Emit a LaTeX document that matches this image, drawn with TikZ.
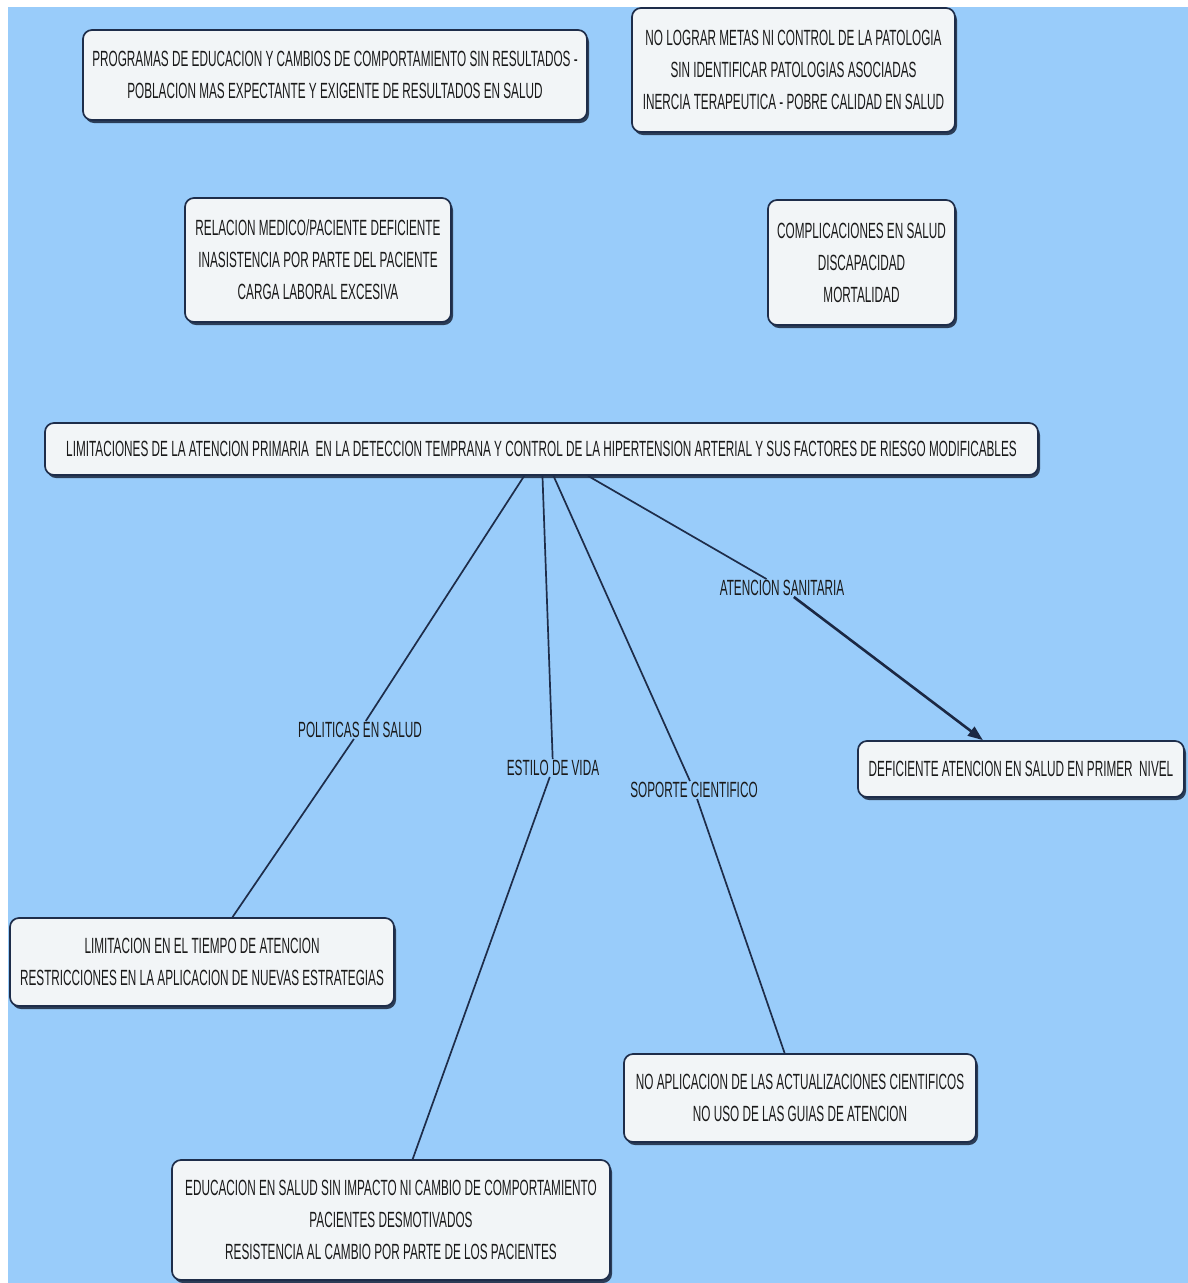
\documentclass[tikz,border=0pt]{standalone}
\usepackage{fontspec}
\setmainfont{Liberation Sans}[FakeStretch=0.535]
\usetikzlibrary{arrows.meta,shadows}
\definecolor{bgblue}{HTML}{99CCFA}
\definecolor{boxfill}{HTML}{F2F5F7}
\definecolor{navy}{HTML}{1E2D4A}
\definecolor{txt}{HTML}{1A1A1A}
\tikzset{
  cbox/.style={draw=navy, line width=1.7pt, fill=boxfill, rounded corners=9pt,
    align=center, text=txt, inner sep=0pt,
    font=\fontsize{22}{32}\selectfont,
    drop shadow={shadow xshift=2pt, shadow yshift=-3pt, fill=navy!80!black, opacity=0.85}},
  elabel/.style={text=txt, inner sep=1pt, font=\fontsize{22}{24}\selectfont},
  conn/.style={draw=navy, line width=1.7pt},
  arrconn/.style={draw=navy!90!black, line width=2.6pt, -{Triangle[length=15pt,width=11pt]}}
}
\begin{document}
\begin{tikzpicture}[x=1pt,y=-1pt]
\useasboundingbox (0,0) rectangle (1188,1283);
\fill[white] (0,0) rectangle (1188,1283);
\fill[bgblue] (8,7) rectangle (1188,1283);

\node[cbox, minimum width=504pt, minimum height=90pt] (prog) at (335,75)
  {PROGRAMAS DE EDUCACION Y CAMBIOS DE COMPORTAMIENTO SIN RESULTADOS -\\
   POBLACION MAS EXPECTANTE Y EXIGENTE DE RESULTADOS EN SALUD};
\node[cbox, minimum width=323pt, minimum height=124pt] (metas) at (793.5,70)
  {NO LOGRAR METAS NI CONTROL DE LA PATOLOGIA\\
   SIN IDENTIFICAR PATOLOGIAS ASOCIADAS\\
   INERCIA TERAPEUTICA - POBRE CALIDAD EN SALUD};
\node[cbox, minimum width=266pt, minimum height=124pt] (rel) at (318,260)
  {RELACION MEDICO/PACIENTE DEFICIENTE\\
   INASISTENCIA POR PARTE DEL PACIENTE\\
   CARGA LABORAL EXCESIVA};
\node[cbox, minimum width=187pt, minimum height=125pt] (compl) at (861.5,262.5)
  {COMPLICACIONES EN SALUD\\
   DISCAPACIDAD\\
   MORTALIDAD};
\node[cbox, minimum width=993pt, minimum height=52pt] (main) at (541.5,449)
  {LIMITACIONES DE LA ATENCION PRIMARIA\ \ EN LA DETECCION TEMPRANA Y CONTROL DE LA HIPERTENSION ARTERIAL Y SUS FACTORES DE RIESGO MODIFICABLES};
\node[cbox, minimum width=326pt, minimum height=56pt] (defic) at (1021,769)
  {DEFICIENTE ATENCION EN SALUD EN PRIMER\ \ NIVEL};
\node[cbox, minimum width=384pt, minimum height=88pt] (limit) at (202,962)
  {LIMITACION EN EL TIEMPO DE ATENCION\\
   RESTRICCIONES EN LA APLICACION DE NUEVAS ESTRATEGIAS};
\node[cbox, minimum width=352pt, minimum height=88pt] (noapl) at (800,1098)
  {NO APLICACION DE LAS ACTUALIZACIONES CIENTIFICOS\\
   NO USO DE LAS GUIAS DE ATENCION};
\node[cbox, minimum width=438pt, minimum height=120pt] (educ) at (391,1220)
  {EDUCACION EN SALUD SIN IMPACTO NI CAMBIO DE COMPORTAMIENTO\\
   PACIENTES DESMOTIVADOS\\
   RESISTENCIA AL CAMBIO POR PARTE DE LOS PACIENTES};

\node[elabel] (polit) at (360,730) {POLITICAS EN SALUD};
\node[elabel] (estilo) at (553,768) {ESTILO DE VIDA};
\node[elabel] (soporte) at (694,790) {SOPORTE CIENTIFICO};
\node[elabel] (atenc) at (782,588) {ATENCION SANITARIA};

\draw[conn] (main) -- (polit);
\draw[conn] (polit) -- (limit);
\draw[conn] (main) -- (estilo);
\draw[conn] (estilo) -- (educ);
\draw[conn] (main) -- (soporte);
\draw[conn] (soporte) -- (noapl);
\draw[conn] (main) -- (atenc);
\draw[arrconn] (atenc) -- (defic);
\end{tikzpicture}
\end{document}
